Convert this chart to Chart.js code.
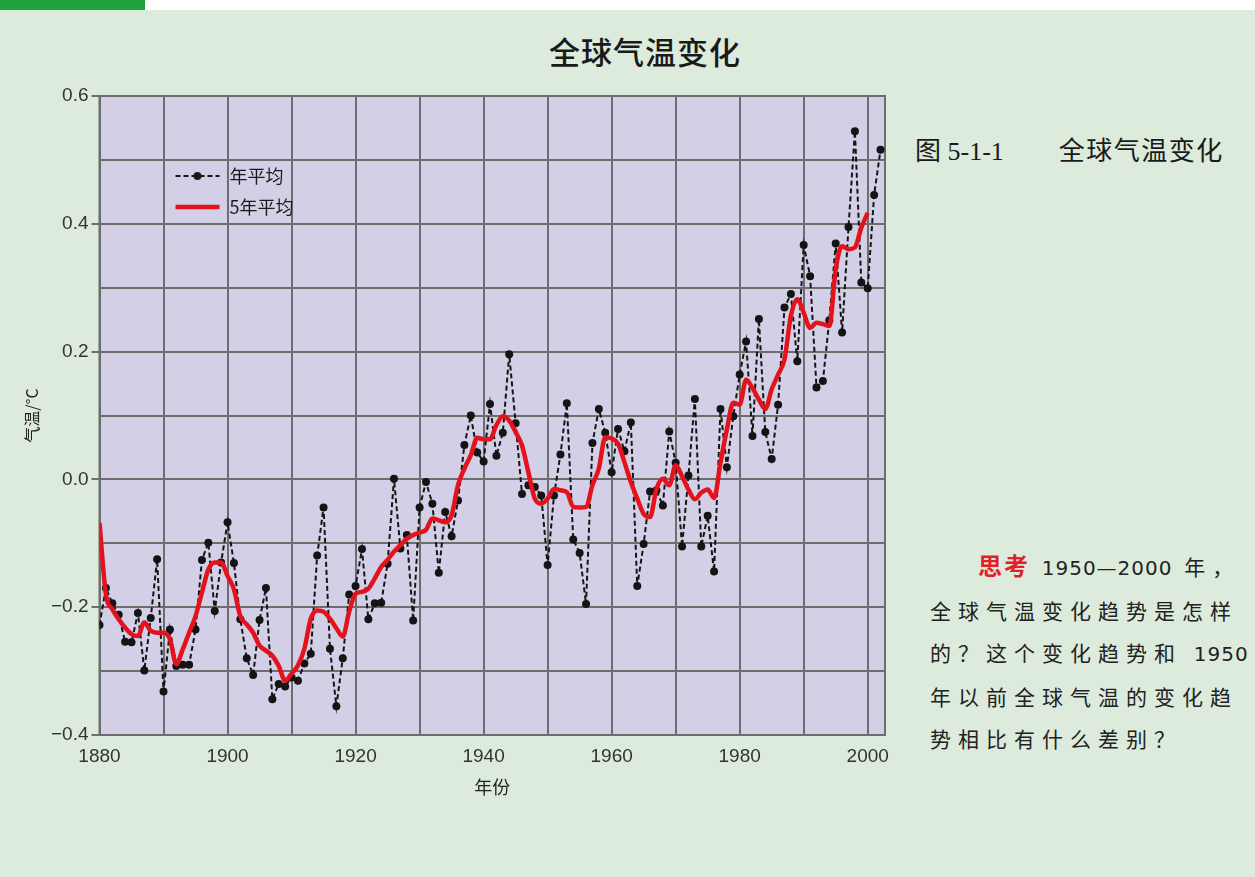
<!DOCTYPE html>
<html lang="zh">
<head>
<meta charset="utf-8">
<title>全球气温变化</title>
<script src="https://cdn.jsdelivr.net/npm/chart.js@4.4.0/dist/chart.umd.min.js"></script>
<style>
  html, body { margin: 0; padding: 0; }
  body {
    width: 1255px; height: 877px; position: relative; overflow: hidden;
    background: #dcebdb; font-family: "Noto Sans CJK SC", sans-serif;
  }
  #topbar { position: absolute; left: 0; top: 0; width: 1255px; height: 10px; background: #fff; }
  #topbar span { position: absolute; left: 0; top: 0; width: 145px; height: 10px; background: #22a23d; }
  #title {
    position: absolute; left: 495px; top: 28px; width: 300px; text-align: center;
    font-size: 31px; font-weight: 500; color: #1a1a1a; letter-spacing: 1px;
  }
  #chartBox { position: absolute; left: 0; top: 0; width: 900px; height: 877px; }
  #caption {
    position: absolute; left: 915px; top: 130px; white-space: nowrap;
    font-family: "Liberation Serif", "Noto Sans CJK SC", serif; font-size: 26px; color: #1a1a1a;
  }
  #caption .cn { letter-spacing: 1.5px; margin-left: 55px; }
  #think {
    position: absolute; left: 930px; top: 544px; white-space: nowrap;
    font-size: 21px; line-height: 42px; letter-spacing: 7px; color: #222;
  }
  #think b { color: #e3202a; font-size: 24px; letter-spacing: 2px; font-weight: 700; }
  #think .n { letter-spacing: 1px; font-family: "DejaVu Sans", sans-serif; font-size: 20px; }
</style>
</head>
<body>
<div id="topbar"><span></span></div>
<div id="title">全球气温变化</div>
<div id="chartBox"><canvas id="tempChart" width="900" height="877"></canvas></div>
<div id="caption">图 5-1-1<span class="cn">全球气温变化</span></div>
<div id="think">
  <div style="padding-left:48px"><b>思考</b> <span class="n">1950—2000</span> 年，</div>
  <div>全球气温变化趋势是怎样</div>
  <div>的？这个变化趋势和 <span class="n">1950</span></div>
  <div>年以前全球气温的变化趋</div>
  <div>势相比有什么差别？</div>
</div>

<script>
// 年平均气温距平，1880—2002
const startYear = 1880;
const annualTemps = [
  -0.228, -0.170, -0.194, -0.212, -0.254, -0.255, -0.209, -0.299, -0.217, -0.125,
  -0.332, -0.235, -0.292, -0.290, -0.290, -0.235, -0.126, -0.099, -0.206, -0.130,
  -0.067, -0.131, -0.219, -0.280, -0.306, -0.220, -0.170, -0.344, -0.320, -0.324,
  -0.310, -0.315, -0.288, -0.273, -0.119, -0.044, -0.265, -0.355, -0.280, -0.180,
  -0.167, -0.109, -0.219, -0.194, -0.193, -0.132, 0.001, -0.108, -0.087, -0.221,
  -0.044, -0.004, -0.038, -0.146, -0.051, -0.089, -0.033, 0.054, 0.100, 0.042,
  0.028, 0.118, 0.037, 0.073, 0.196, 0.088, -0.023, -0.009, -0.012, -0.025,
  -0.134, -0.025, 0.039, 0.119, -0.094, -0.115, -0.195, 0.057, 0.110, 0.073,
  0.011, 0.079, 0.044, 0.089, -0.167, -0.101, -0.019, -0.017, -0.041, 0.075,
  0.026, -0.105, 0.006, 0.126, -0.105, -0.057, -0.144, 0.110, 0.019, 0.099,
  0.164, 0.216, 0.068, 0.251, 0.074, 0.032, 0.117, 0.269, 0.290, 0.185,
  0.367, 0.318, 0.144, 0.154, 0.249, 0.369, 0.230, 0.395, 0.545, 0.308,
  0.299, 0.445, 0.516
];

// 5年滑动平均，1880—2000
const fiveYearTemps = [
  -0.068, -0.180, -0.203, -0.219, -0.232, -0.242, -0.245, -0.224, -0.237, -0.240,
  -0.240, -0.250, -0.289, -0.266, -0.240, -0.214, -0.177, -0.141, -0.130, -0.130,
  -0.151, -0.172, -0.214, -0.227, -0.240, -0.260, -0.268, -0.276, -0.292, -0.315,
  -0.304, -0.291, -0.265, -0.218, -0.205, -0.207, -0.218, -0.233, -0.246, -0.207,
  -0.179, -0.176, -0.171, -0.155, -0.137, -0.126, -0.113, -0.103, -0.093, -0.087,
  -0.083, -0.079, -0.061, -0.064, -0.067, -0.056, -0.009, 0.017, 0.038, 0.065,
  0.063, 0.063, 0.085, 0.099, 0.092, 0.074, 0.053, 0.011, -0.030, -0.038,
  -0.030, -0.015, -0.017, -0.020, -0.043, -0.044, -0.043, -0.009, 0.017, 0.066,
  0.064, 0.056, 0.027, -0.004, -0.030, -0.054, -0.059, -0.015, 0.001, -0.009,
  0.022, 0.005, -0.016, -0.031, -0.021, -0.016, -0.029, 0.026, 0.078, 0.120,
  0.117, 0.156, 0.143, 0.125, 0.110, 0.141, 0.164, 0.188, 0.256, 0.282,
  0.261, 0.237, 0.245, 0.243, 0.240, 0.329, 0.365, 0.360, 0.363, 0.394,
  0.417
];

const xTickLabels = [1880, 1900, 1920, 1940, 1960, 1980, 2000];
const yTickValues = [-0.4, -0.2, 0, 0.2, 0.4, 0.6];
const yTickLabels = ['\u22120.4', '\u22120.2', '0.0', '0.2', '0.4', '0.6'];

const gridColor = '#6d6d6d';
const plotFill = '#d3cfe6';
const tickFont = { family: '"Liberation Sans", "DejaVu Sans", sans-serif', size: 19 };

function yLabelIndex(v) {
  return yTickValues.findIndex(t => Math.abs(t - v) < 1e-6);
}

function toPoints(values) {
  return values.map((v, i) => ({ x: startYear + i, y: v }));
}

// 绘图区底色和外框
const plotFrame = {
  id: 'plotFrame',
  beforeDraw(chart) {
    const { ctx, chartArea: a } = chart;
    ctx.save();
    ctx.fillStyle = plotFill;
    ctx.fillRect(a.left, a.top, a.right - a.left, a.bottom - a.top);
    ctx.restore();
  },
  beforeDatasetsDraw(chart) {
    const { ctx, chartArea: a } = chart;
    ctx.save();
    ctx.strokeStyle = gridColor;
    ctx.lineWidth = 2;
    ctx.strokeRect(a.left, a.top, a.right - a.left, a.bottom - a.top);
    ctx.restore();
  }
};

// 图例画在绘图区左上角
const innerLegend = {
  id: 'innerLegend',
  afterDraw(chart) {
    const { ctx, chartArea: a } = chart;
    const x0 = a.left + 76, x1 = a.left + 120;
    const rows = [a.top + 80, a.top + 111];
    const sets = chart.data.datasets;
    ctx.save();
    ctx.font = '18px "Noto Sans CJK SC", sans-serif';
    ctx.textBaseline = 'middle';
    ctx.fillStyle = '#1a1a1a';

    const s0 = sets[0];
    ctx.strokeStyle = s0.borderColor;
    ctx.lineWidth = s0.borderWidth;
    ctx.setLineDash(s0.borderDash);
    ctx.beginPath();
    ctx.moveTo(x0, rows[0]);
    ctx.lineTo(x1, rows[0]);
    ctx.stroke();
    ctx.setLineDash([]);
    ctx.beginPath();
    ctx.arc((x0 + x1) / 2, rows[0], s0.pointRadius, 0, Math.PI * 2);
    ctx.fill();
    ctx.fillText(s0.label, x1 + 10, rows[0]);

    const s1 = sets[1];
    ctx.strokeStyle = s1.borderColor;
    ctx.lineWidth = s1.borderWidth;
    ctx.beginPath();
    ctx.moveTo(x0, rows[1]);
    ctx.lineTo(x1, rows[1]);
    ctx.stroke();
    ctx.fillText(s1.label, x1 + 10, rows[1]);
    ctx.restore();
  }
};

new Chart(document.getElementById('tempChart'), {
  type: 'line',
  data: {
    datasets: [
      {
        label: '年平均',
        data: toPoints(annualTemps),
        borderColor: '#141414',
        borderWidth: 2,
        borderDash: [5, 3],
        pointRadius: 4,
        pointBackgroundColor: '#141414',
        pointBorderWidth: 0,
        tension: 0,
        order: 1
      },
      {
        label: '5年平均',
        data: toPoints(fiveYearTemps),
        borderColor: '#e3121c',
        borderWidth: 4.5,
        pointRadius: 0,
        cubicInterpolationMode: 'monotone',
        order: 0
      }
    ]
  },
  options: {
    responsive: false,
    animation: false,
    layout: { padding: { left: 0, right: 15, top: 96, bottom: 62 } },
    plugins: { legend: { display: false }, tooltip: { enabled: false } },
    scales: {
      x: {
        type: 'linear',
        min: 1880,
        max: 2002.7,
        afterFit(scale) { scale.height = 80; },
        border: { color: gridColor, width: 2 },
        grid: { color: gridColor, lineWidth: 2, drawTicks: false },
        ticks: {
          stepSize: 10,
          includeBounds: false,
          autoSkip: false,
          maxRotation: 0,
          padding: 10,
          color: '#333',
          font: tickFont,
          callback: v => xTickLabels.includes(v) ? String(v) : ''
        },
        title: {
          display: true,
          text: '年份',
          color: '#222',
          font: { family: '"Noto Sans CJK SC", sans-serif', size: 18 },
          padding: { top: 0, bottom: 17 }
        }
      },
      y: {
        min: -0.4,
        max: 0.6,
        afterFit(scale) { scale.width = 99.5; },
        border: { color: gridColor, width: 2 },
        grid: {
          color: gridColor,
          lineWidth: 2,
          tickLength: 8,
          tickColor: ctx => yLabelIndex(ctx.tick.value) >= 0 ? gridColor : 'rgba(0,0,0,0)'
        },
        ticks: {
          stepSize: 0.1,
          autoSkip: false,
          padding: 3,
          color: '#333',
          font: tickFont,
          callback: v => {
            const i = yLabelIndex(v);
            return i >= 0 ? yTickLabels[i] : '';
          }
        },
        title: {
          display: true,
          text: '气温/°C',
          color: '#222',
          font: { family: '"Noto Sans CJK SC", sans-serif', size: 16 },
          padding: { top: 22, bottom: 0 }
        }
      }
    }
  },
  plugins: [plotFrame, innerLegend]
});
</script>
</body>
</html>
